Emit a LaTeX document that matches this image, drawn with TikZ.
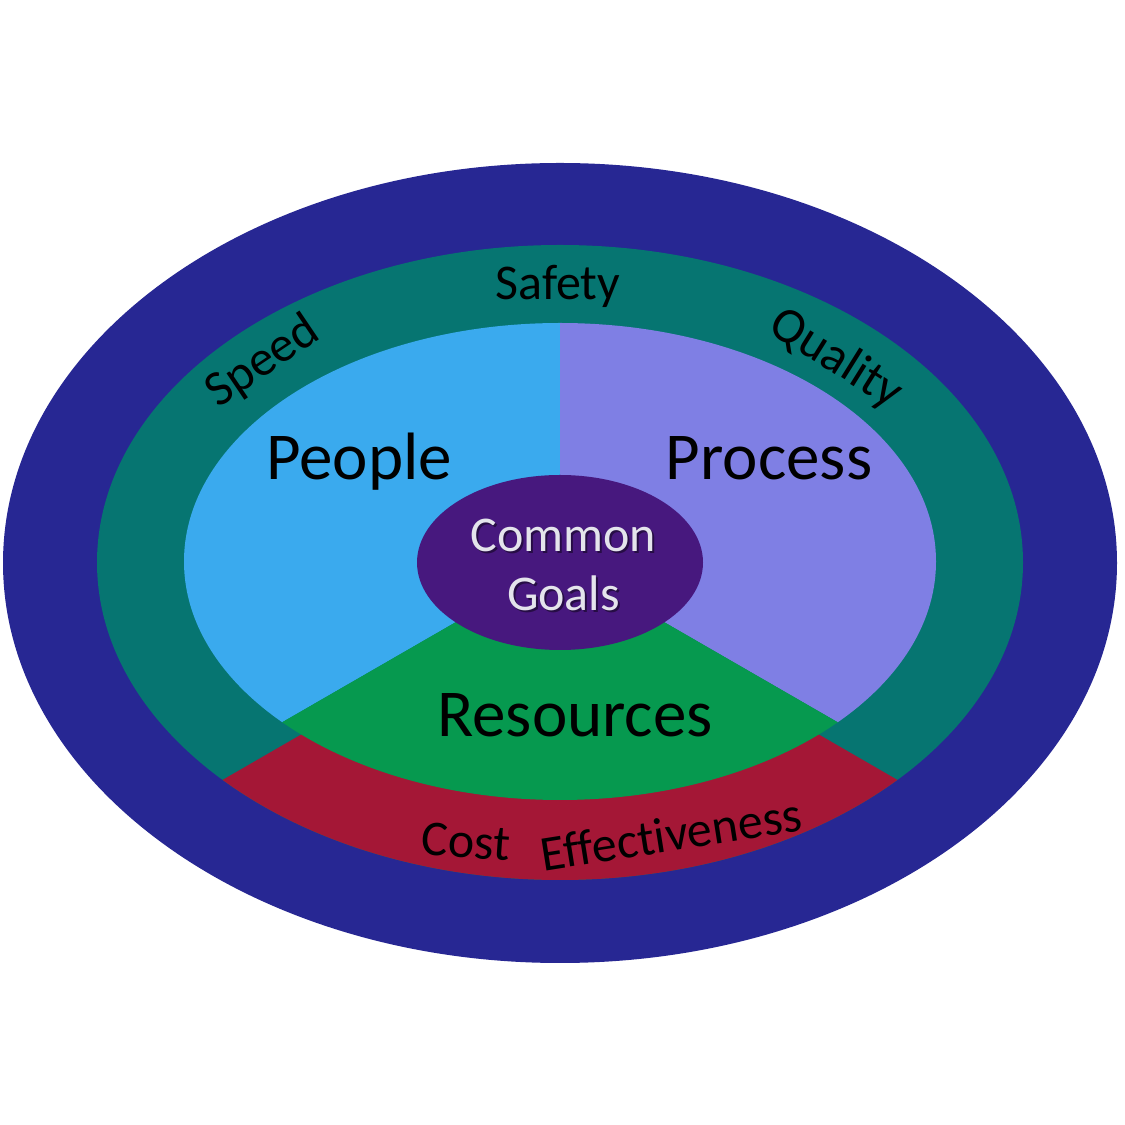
\documentclass[tikz,border=0pt]{standalone}
\usepackage{fontspec}
\setmainfont{Carlito}[Ligatures={NoCommon}]
\definecolor{outerblue}{HTML}{272793}
\definecolor{ringteal}{HTML}{067571}
\definecolor{ringred}{HTML}{A41736}
\definecolor{peopleblue}{HTML}{3AAAEE}
\definecolor{processlav}{HTML}{7F7FE4}
\definecolor{resgreen}{HTML}{06994F}
\definecolor{goalpurple}{HTML}{47187E}
\definecolor{goaltext}{HTML}{E4E4EC}
\begin{document}
\begin{tikzpicture}[x=1pt,y=1pt,
  bigtext/.style={font=\fontsize{67}{67}\selectfont, text=black, inner sep=0pt},
  ringtext/.style={font=\fontsize{50}{50}\selectfont, text=black, inner sep=0pt},
  goaltxt/.style={font=\fontsize{50}{50}\selectfont, text=goaltext, inner sep=0pt},
  goalshadow/.style={font=\fontsize{50}{50}\selectfont, text=black, opacity=0.45, inner sep=0pt}]
\useasboundingbox (0,0) rectangle (1125,1125);
% outer ellipse
\fill[outerblue] (560,562) ellipse [x radius=557, y radius=400];
% teal ring
\fill[ringteal] (560,562.5) ellipse [x radius=463, y radius=317.5];
% red sector of ring
\begin{scope}
  \clip (560,540) -- (-219,90) -- (-219,-200) -- (1339,-200) -- (1339,90) -- cycle;
  \fill[ringred] (560,562.5) ellipse [x radius=463, y radius=317.5];
\end{scope}
% People sector
\begin{scope}
  \clip (560,563) -- (560,1100) -- (0,1100) -- (0,240) -- cycle;
  \fill[peopleblue] (560,563.5) ellipse [x radius=376, y radius=238.5];
\end{scope}
% Process sector
\begin{scope}
  \clip (560,563) -- (560,1100) -- (1125,1100) -- (1125,237) -- cycle;
  \fill[processlav] (560,563.5) ellipse [x radius=376, y radius=238.5];
\end{scope}
% Resources sector
\begin{scope}
  \clip (560,563) -- (0,240) -- (0,0) -- (1125,0) -- (1125,237) -- cycle;
  \fill[resgreen] (560,563.5) ellipse [x radius=376, y radius=238.5];
\end{scope}
% center ellipse
\fill[goalpurple] (560,562.5) ellipse [x radius=143, y radius=87.5];
% sector labels
\node[bigtext, anchor=base] (people) at (359,645) {People};
\node[bigtext, anchor=base] (process) at (769,645) {Process};
\node[bigtext, anchor=base] (resources) at (575,388) {Resources};
% common goals
\node[goalshadow, anchor=base] (commonsh) at (565.5,571) {Common};
\node[goalshadow, anchor=base] (goalssh) at (565.5,512) {Goals};
\node[goaltxt, anchor=base] (common) at (563.5,573) {Common};
\node[goaltxt, anchor=base] (goals) at (563.5,514) {Goals};
% ring labels
\node[ringtext, anchor=base] (safety) at (558,825) {Safety};
\node[ringtext, rotate=34] (speed) at (263,763) {Speed};
\node[ringtext, rotate=-32] (quality) at (836,766) {Quality};
\node[ringtext, rotate=-4] (cost) at (466,283) {Cost};
\node[ringtext, rotate=9] (effect) at (671,291) {Effectiveness};
\end{tikzpicture}
\end{document}
